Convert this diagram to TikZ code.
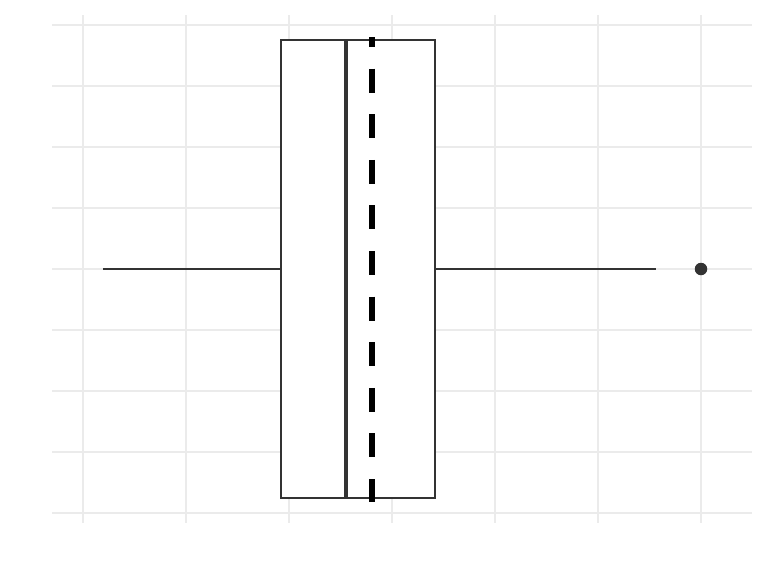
\documentclass[tikz,border=0pt]{standalone}
\definecolor{gridc}{HTML}{EBEBEB}
\definecolor{boxc}{HTML}{333333}
\tikzset{
  major/.style={draw=gridc, line width=2.6pt},
  minor/.style={draw=gridc, line width=1.2pt},
  boxst/.style={draw=boxc, line width=2.4pt, fill=white, rectangle, inner sep=0pt, minimum width=154pt, minimum height=458pt},
  whisk/.style={draw=boxc, line width=2.4pt},
  medst/.style={draw=boxc, line width=4.8pt},
  meanst/.style={draw=black, line width=6.7pt, dash pattern=on 24pt off 21.6pt, dash phase=14pt},
  outl/.style={circle, fill=boxc, inner sep=0pt, minimum size=12.5pt}
}
\begin{document}
\begin{tikzpicture}[x=1pt,y=-1pt]
\useasboundingbox[fill=white] (0,0) rectangle (768,576);
% minor grid
\foreach \y in {86,208,330,452} \draw[minor] (52,\y) -- (752,\y);
\foreach \x in {186,392,598} \draw[minor] (\x,15) -- (\x,523);
% major grid
\foreach \y in {25,147,269,391,513} \draw[major] (52,\y) -- (752,\y);
\foreach \x in {83,289,495,701} \draw[major] (\x,15) -- (\x,523);
% whisker ends
\coordinate (wl) at (103,269);
\coordinate (wr) at (656,269);
% box
\node[boxst] (box) at (358,269) {};
\draw[whisk] (wl) -- (box.west);
\draw[whisk] (box.east) -- (wr);
% median
\coordinate (mt) at (346,40);
\coordinate (mb) at (346,498);
\draw[medst] (mt) -- (mb);
% mean
\coordinate (at) at (372,37);
\coordinate (ab) at (372,502);
\draw[meanst] (at) -- (ab);
% outlier
\node[outl] (out) at (701,269) {};
\end{tikzpicture}
\end{document}
